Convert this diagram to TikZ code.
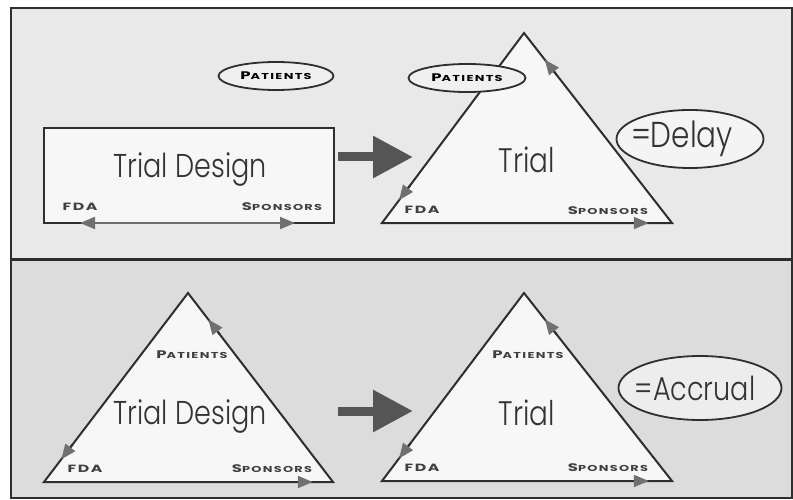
\documentclass[tikz,border=0pt]{standalone}
\usepackage{fontspec}
\setmainfont{Poppins}[UprightFont={* Light}]
\newfontfamily\bigfont{Poppins}[UprightFont={* Light}, FakeStretch=0.82]
\newfontfamily\labfont{Poppins}[FakeStretch=1.5, LetterSpace=15]
\usetikzlibrary{arrows.meta,shapes.geometric,calc}
\definecolor{bgtop}{HTML}{E9E9E9}
\definecolor{bgbot}{HTML}{DCDCDC}
\definecolor{shapefill}{HTML}{F7F7F7}
\definecolor{edgecol}{HTML}{2E2E2E}
\definecolor{tipgray}{HTML}{707070}
\definecolor{bigcol}{HTML}{555555}
\newcommand\lab[2]{{\labfont\bfseries{\fontsize{11}{11}\selectfont #1}{\fontsize{8.6}{9}\selectfont #2}}}
\newcommand\labcaps[1]{{\labfont\bfseries\fontsize{10.5}{11}\selectfont #1}}
\tikzset{
  tri/.style={draw=edgecol, line width=2pt, fill=shapefill, line join=miter},
  boxshape/.style={draw=edgecol, line width=2pt, fill=shapefill, minimum width=290pt, minimum height=95pt, inner sep=0pt},
  oval/.style={ellipse, draw=edgecol, line width=1.8pt, inner sep=0pt},
  edgearrow/.style={draw=edgecol, line width=2pt, -{Triangle[length=15pt,width=12pt,color=tipgray,fill=tipgray]}},
  duoarrow/.style={draw=tipgray, line width=2pt, {Triangle[length=15pt,width=12pt,color=tipgray,fill=tipgray]}-{Triangle[length=15pt,width=12pt,color=tipgray,fill=tipgray]}},
  bigarr/.style={draw=bigcol, line width=9pt, -{Triangle[length=40pt,width=40pt,color=bigcol,fill=bigcol]}},
  bigtext/.style={font=\bigfont\fontsize{33}{33}\selectfont, text=black!80, inner sep=0pt},
  trialtext/.style={font=\bigfont\fontsize{34}{34}\selectfont, text=black!80, inner sep=0pt},
  labtext/.style={text=black!75, inner sep=0pt}
}
\begin{document}
\begin{tikzpicture}[x=1pt,y=-1pt]
\useasboundingbox (0,0) rectangle (793,500);
\fill[white] (0,0) rectangle (793,500);
\fill[bgtop] (11,8) rectangle (792,259);
\fill[bgbot] (11,259) rectangle (792,498);
\draw[edgecol, line width=2.5pt] (11,8) rectangle (792,498);
\draw[edgecol, line width=3pt] (11,259) -- (792,259);

% ---------- top left: rectangle ----------
\node[boxshape] (design) at (189,175.5) {};
\node[bigtext] (designtxt) at (190,170) {Trial Design};
\node[labtext] (fda1) at (80,207) {\labcaps{FDA}};
\node[labtext] (sp1) at (282,207) {\lab{S}{PONSORS}};
\coordinate (dl1) at (80,223);
\coordinate (dr1) at (295,223);
\draw[duoarrow] (dl1) -- (dr1);
\node[oval, fill=bgtop!70!white, minimum width=115pt, minimum height=28pt] (pat1) at (276,76) {\lab{P}{ATIENTS}};

% big arrow top
\coordinate (ba1s) at (338,157);
\coordinate (ba1e) at (413,157);
\draw[bigarr] (ba1s) -- (ba1e);

% ---------- top right: triangle ----------
\coordinate (t1a) at (524,33);
\coordinate (t1l) at (382,223);
\coordinate (t1r) at (672,223);
\draw[tri] (t1a) -- (t1r) -- (t1l) -- cycle;
\draw[edgearrow] ($(t1r)!0.78!(t1a)$) -- ($(t1r)!0.86!(t1a)$);
\draw[edgearrow] ($(t1a)!0.80!(t1l)$) -- ($(t1a)!0.88!(t1l)$);
\draw[edgearrow] ($(t1l)!0.84!(t1r)$) -- ($(t1l)!0.92!(t1r)$);
\node[oval, fill=bgtop!70!white, minimum width=117pt, minimum height=28pt] (pat2) at (467,78) {\lab{P}{ATIENTS}};
\node[trialtext] (trial1) at (527,160) {Trial};
\node[labtext] (fda2) at (422,210) {\labcaps{FDA}};
\node[labtext] (sp2) at (608,211) {\lab{S}{PONSORS}};
\node[oval, fill=bgtop!50!white, minimum width=147pt, minimum height=58pt] (delay) at (690,139) {};
\node[font=\bigfont\fontsize{36}{36}\selectfont, text=black!80, inner sep=0pt] (delaytxt) at (682,139) {=Delay};

% ---------- bottom left: triangle ----------
\coordinate (t2a) at (188,293);
\coordinate (t2l) at (44,482);
\coordinate (t2r) at (333,482);
\draw[tri] (t2a) -- (t2r) -- (t2l) -- cycle;
\draw[edgearrow] ($(t2r)!0.78!(t2a)$) -- ($(t2r)!0.86!(t2a)$);
\draw[edgearrow] ($(t2a)!0.80!(t2l)$) -- ($(t2a)!0.88!(t2l)$);
\draw[edgearrow] ($(t2l)!0.85!(t2r)$) -- ($(t2l)!0.93!(t2r)$);
\node[labtext] (pat3) at (192,355) {\lab{P}{ATIENTS}};
\node[bigtext] (designtxt2) at (190,417) {Trial Design};
\node[labtext] (fda3) at (85,469) {\labcaps{FDA}};
\node[labtext] (sp3) at (272,469) {\lab{S}{PONSORS}};

% big arrow bottom
\coordinate (ba2s) at (338,411);
\coordinate (ba2e) at (413,411);
\draw[bigarr] (ba2s) -- (ba2e);

% ---------- bottom right: triangle ----------
\coordinate (t3a) at (524,293);
\coordinate (t3l) at (382,481);
\coordinate (t3r) at (672,481);
\draw[tri] (t3a) -- (t3r) -- (t3l) -- cycle;
\draw[edgearrow] ($(t3r)!0.78!(t3a)$) -- ($(t3r)!0.86!(t3a)$);
\draw[edgearrow] ($(t3a)!0.80!(t3l)$) -- ($(t3a)!0.88!(t3l)$);
\draw[edgearrow] ($(t3l)!0.84!(t3r)$) -- ($(t3l)!0.92!(t3r)$);
\node[labtext] (pat4) at (528,355) {\lab{P}{ATIENTS}};
\node[trialtext] (trial2) at (527,413) {Trial};
\node[labtext] (fda4) at (422,468) {\labcaps{FDA}};
\node[labtext] (sp4) at (608,468) {\lab{S}{PONSORS}};
\node[oval, fill=bgbot!50!white, minimum width=163pt, minimum height=64pt] (accrual) at (700,388) {};
\node[font=\bigfont\fontsize{33}{33}\selectfont, text=black!80, inner sep=0pt] (accrualtxt) at (695,388) {=Accrual};
\end{tikzpicture}
\end{document}
